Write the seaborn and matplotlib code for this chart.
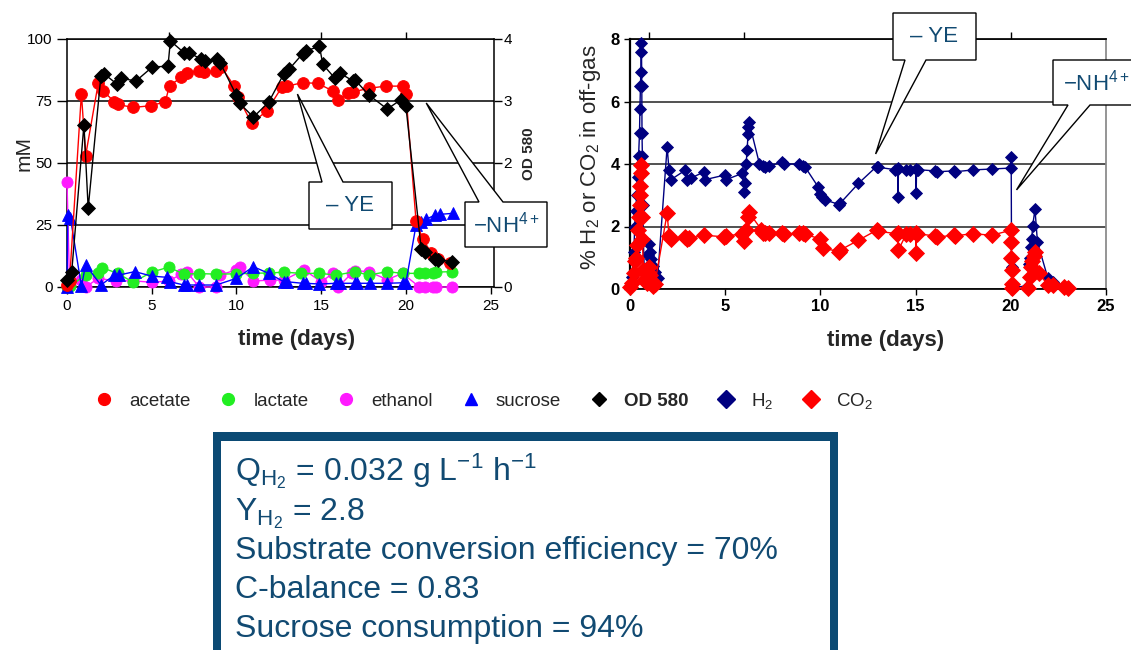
import numpy as np
import matplotlib
matplotlib.use("Agg")
import matplotlib.pyplot as plt
import seaborn as sns
from matplotlib.lines import Line2D
from matplotlib.patches import Polygon, Rectangle

# ---------------- data (left panel: mM and OD580) ----------------
acetate_day = [0.0, 0.15, 0.85, 1.1, 1.85, 2.1, 2.8, 3.0, 3.9, 4.95, 5.8, 6.05, 6.75, 7.1, 7.8, 8.1,
               8.8, 9.1, 9.85, 10.1, 10.9, 11.8, 12.7, 13.0, 13.9, 14.8, 15.7, 16.0, 16.6, 16.9, 17.8,
               18.8, 19.8, 20.0, 20.6, 21.0, 21.5, 21.9, 22.6]
acetate_mM = [1.0, 2.5, 78.0, 53.0, 82.4, 79.2, 74.7, 73.6, 72.4, 73.1, 74.7, 81.2, 84.5, 86.4, 87.2, 86.8,
              87.1, 88.8, 81.2, 76.5, 66.0, 71.1, 80.8, 81.0, 82.4, 82.1, 79.0, 75.4, 78.4, 78.7, 80.1,
              81.0, 81.0, 77.8, 26.6, 19.2, 13.8, 11.2, 9.6]

lactate_day = [0.0, 0.2, 1.1, 1.85, 2.05, 3.0, 3.9, 5.0, 6.0, 6.9, 7.8, 8.8, 10.0, 11.0, 11.9, 12.8,
               13.8, 14.9, 15.9, 17.0, 17.8, 18.9, 19.8, 20.8, 21.1, 21.6, 21.8, 22.7]
lactate_mM = [0.0, 0.5, 4.8, 5.5, 7.8, 5.5, 1.9, 6.0, 8.0, 5.2, 5.4, 5.2, 5.3, 5.6, 5.6, 6.0,
              5.5, 5.5, 4.8, 6.2, 4.8, 6.2, 5.5, 5.5, 5.5, 5.5, 6.0, 6.2]

ethanol_day = [0.0, 0.15, 0.8, 1.1, 1.85, 2.9, 3.9, 5.0, 6.0, 6.75, 7.1, 7.8, 8.8, 9.0, 10.0, 10.2,
               11.0, 12.0, 12.8, 14.0, 15.0, 15.7, 16.0, 16.8, 17.0, 17.8, 18.9, 19.8, 20.8, 21.1,
               21.6, 21.8, 22.7]
ethanol_mM = [42.5, 1.0, 2.8, 0.0, 3.5, 2.4, 2.5, 1.9, 2.4, 5.2, 5.9, 0.0, 0.0, 4.8, 6.9, 7.9,
              2.4, 2.8, 2.8, 6.9, 2.1, 5.5, 0.0, 5.5, 6.6, 6.2, 3.0, 5.5, 0.0, 0.0,
              0.0, 0.0, 0.0]

sucrose_day = [0.0, 0.05, 0.2, 0.85, 1.1, 2.0, 2.8, 3.05, 4.0, 5.0, 5.9, 6.1, 6.9, 7.1, 7.8, 8.8,
               10.0, 11.0, 11.9, 12.8, 13.0, 13.9, 14.1, 14.9, 15.9, 16.1, 17.0, 17.1, 17.9, 18.9,
               19.8, 20.0, 20.6, 20.9, 21.2, 21.7, 22.0, 22.8]
sucrose_mM = [0.0, 29.0, 28.0, 0.3, 8.9, 0.8, 4.8, 4.8, 6.2, 4.4, 3.9, 2.1, 0.8, 0.8, 0.8, 0.8,
              3.5, 8.2, 5.5, 2.1, 2.1, 1.5, 1.5, 1.2, 1.5, 1.5, 1.5, 1.5, 1.5, 1.5,
              1.7, 1.7, 25.0, 26.3, 27.3, 29.0, 29.3, 29.7]

od_day = [0.0, 0.28, 1.0, 1.25, 2.0, 2.18, 2.96, 3.2, 4.06, 5.04, 5.96, 6.1, 6.9, 7.2, 7.88, 8.16,
          8.85, 9.05, 10.0, 10.2, 11.0, 11.9, 12.8, 13.1, 13.9, 14.1, 14.9, 15.1, 15.8, 16.1,
          16.9, 17.0, 17.8, 18.9, 19.7, 20.0, 20.9, 21.1, 21.7, 21.9, 22.7]
od_580 = [0.12, 0.25, 2.62, 1.27, 3.40, 3.44, 3.27, 3.37, 3.32, 3.55, 3.56, 3.97, 3.78, 3.78, 3.68, 3.65,
          3.68, 3.61, 3.09, 2.96, 2.74, 2.98, 3.44, 3.51, 3.76, 3.81, 3.88, 3.59, 3.37, 3.45,
          3.32, 3.34, 3.10, 2.87, 3.02, 2.92, 0.62, 0.57, 0.45, 0.44, 0.41]

# ---------------- data (right panel: % in off-gas) ----------------
h2_day = [0.0, 0.1, 0.2, 0.25, 0.3, 0.35, 0.4, 0.45, 0.5, 0.52, 0.55, 0.57, 0.58, 0.6, 0.62, 0.63,
          0.65, 0.68, 0.7, 0.75, 0.85, 0.9, 0.95, 1.0, 1.05, 1.1, 1.2, 1.3, 1.45, 1.95, 2.05, 2.15,
          2.9, 3.0, 3.2, 3.9, 3.95, 5.0, 5.05, 5.9, 6.0, 6.05, 6.1, 6.15, 6.2, 6.22, 6.25, 6.8,
          7.0, 7.1, 7.3, 8.0, 8.1, 8.9, 9.1, 9.2, 9.9, 10.0, 10.1, 10.25, 11.0, 11.05, 12.0, 12.95,
          13.0, 13.9, 14.05, 14.08, 14.1, 14.5, 14.7, 15.0, 15.03, 15.05, 15.1, 16.0, 16.1, 17.0,
          17.05, 18.0, 19.0, 20.0, 20.02, 20.04, 20.05, 20.1, 20.9, 20.95, 21.0, 21.05, 21.1,
          21.15, 21.27, 21.4, 21.95, 22.2, 23.0]
h2_pct = [0.05, 0.4, 1.2, 2.0, 2.5, 3.0, 3.6, 4.25, 5.0, 5.75, 6.5, 6.95, 7.57, 7.88, 6.5, 5.0,
          4.25, 2.7, 1.6, 0.6, 0.3, 0.7, 1.1, 1.45, 1.2, 0.95, 0.75, 0.55, 0.35, 4.55, 3.8, 3.5,
          3.8, 3.5, 3.55, 3.75, 3.5, 3.65, 3.5, 3.7, 3.1, 3.4, 4.0, 4.45, 4.95, 5.2, 5.35, 4.0,
          3.95, 3.9, 3.95, 4.05, 4.0, 4.0, 3.95, 3.9, 3.25, 3.05, 2.95, 2.85, 2.7, 2.75, 3.38, 3.92,
          3.9, 3.82, 3.87, 2.95, 3.85, 3.82, 3.82, 3.85, 3.06, 3.8, 3.82, 3.78, 3.75, 3.78,
          3.75, 3.81, 3.84, 3.87, 4.23, 0.7, 0.0, 0.05, 0.1, 0.8, 1.0, 1.35, 1.6,
          2.03, 2.55, 1.5, 0.34, 0.23, 0.08]

co2_day = [0.0, 0.1, 0.2, 0.25, 0.3, 0.35, 0.4, 0.45, 0.5, 0.52, 0.55, 0.57, 0.6, 0.62, 0.65, 0.7,
           0.75, 0.85, 0.9, 0.95, 1.0, 1.05, 1.1, 1.2, 1.3, 1.95, 2.05, 2.15, 2.9, 3.0, 3.1, 3.9,
           4.95, 5.05, 5.9, 6.0, 6.1, 6.2, 6.25, 6.9, 7.0, 7.1, 7.3, 8.0, 8.1, 8.9, 9.1, 9.2, 10.0,
           10.15, 11.0, 11.05, 12.0, 12.95, 13.0, 14.0, 14.05, 14.1, 14.5, 14.7, 15.0, 15.03, 15.05,
           16.0, 16.1, 17.0, 17.05, 18.0, 19.0, 20.0, 20.02, 20.03, 20.04, 20.05, 20.06, 20.9, 21.0,
           21.05, 21.1, 21.2, 21.27, 21.5, 21.95, 22.2, 22.8, 23.0]
co2_pct = [0.05, 0.2, 0.5, 0.9, 1.0, 1.4, 1.9, 2.3, 2.7, 3.0, 3.3, 3.7, 3.97, 2.3, 1.6, 0.6,
           0.3, 0.5, 0.2, 0.55, 0.7, 0.45, 0.2, 0.1, 0.15, 2.42, 1.7, 1.6, 1.67, 1.6, 1.62, 1.72,
           1.67, 1.7, 1.76, 1.55, 1.9, 2.3, 2.45, 1.9, 1.8, 1.8, 1.8, 1.8, 1.75, 1.8, 1.8, 1.75, 1.6,
           1.3, 1.2, 1.25, 1.56, 1.88, 1.85, 1.77, 1.8, 1.25, 1.75, 1.77, 1.8, 1.15, 1.77,
           1.7, 1.66, 1.72, 1.7, 1.77, 1.72, 1.88, 1.5, 1.0, 0.6, 0.15, 0.02, 0.03, 0.4,
           0.7, 0.9, 1.05, 1.18, 0.5, 0.12, 0.12, 0.06, 0.03]

left_xticks = [0, 5, 10, 15, 20, 25]
mM_ticks = [0, 25, 50, 75, 100]
od_ticks = [0, 1, 2, 3, 4]
od_ticklabels = ["0", "", "2", "3", "4"]   # "1" is hidden behind the −NH4+ callout
gas_ticks = [0, 2, 4, 6, 8]
event_days_left = [6, 15, 20]
event_days_right = [1, 6, 20]

legend_labels = ["acetate", "lactate", "ethanol", "sucrose", "OD 580", "H$_2$", "CO$_2$"]
summary_lines = [
    r"Q$_{H_2}$ = 0.032 g L$^{\mathsf{-1}}$ h$^{\mathsf{-1}}$",
    r"Y$_{H_2}$ = 2.8",
    "Substrate conversion efficiency = 70%",
    "C-balance = 0.83",
    "Sucrose consumption = 94%",
]

# ---------------- style ----------------
sns.set_theme(style="white")
plt.rcParams["font.family"] = ["Liberation Sans", "DejaVu Sans"]
plt.rcParams["mathtext.fontset"] = "custom"
plt.rcParams["mathtext.rm"] = "Liberation Sans"
plt.rcParams["mathtext.it"] = "Liberation Sans"
plt.rcParams["mathtext.bf"] = "Liberation Sans:bold"
plt.rcParams["mathtext.sf"] = "Liberation Sans"
plt.rcParams["mathtext.default"] = "regular"

W, H = 1131, 650
fig = plt.figure(figsize=(W / 100, H / 100), dpi=100)
fig.patch.set_facecolor("white")


def frac_box(x0, y0, x1, y1):
    # pixel box (top-origin) -> [left, bottom, width, height] fractions
    return [x0 / W, 1 - y1 / H, (x1 - x0) / W, (y1 - y0) / H]


RED, GREEN, MAGENTA, BLUE, BLACK, NAVY = "#ff0000", "#22ee22", "#ff1aff", "#0000ff", "#000000", "#000080"
TXT = "#114a72"
BORDER = "#0b4a74"


def series(ax, x, y, color, marker, ms, z=3, lw=1.0):
    sns.lineplot(x=np.asarray(x), y=np.asarray(y), ax=ax, color=color, marker=marker,
                 markersize=ms, markeredgecolor=color, markeredgewidth=0.6, linewidth=lw,
                 estimator=None, sort=False, clip_on=False, legend=False, zorder=z)


# ---------------- left panel ----------------
axL = fig.add_axes(frac_box(67, 39, 494, 287))
series(axL, ethanol_day, ethanol_mM, MAGENTA, "o", 8)
series(axL, lactate_day, lactate_mM, GREEN, "o", 8)
series(axL, sucrose_day, sucrose_mM, BLUE, "^", 8)
series(axL, acetate_day, acetate_mM, RED, "o", 8.5)
axL.set_xlim(0, 25.2)
axL.set_ylim(0, 100)
axL.set_xticks(left_xticks)
axL.set_yticks(mM_ticks)
axL.yaxis.grid(True, color="black", linewidth=1.1)
axL.xaxis.grid(False)
axL.set_axisbelow(True)
for s in ["left", "bottom", "top"]:
    axL.spines[s].set_color("black")
    axL.spines[s].set_linewidth(1.1)
axL.spines["right"].set_visible(False)
axL.tick_params(axis="both", which="major", labelsize=11, colors="black", direction="out",
                length=5, width=1, left=True, bottom=True)
axL.tick_params(axis="y", length=7)
axL.set_ylabel("mM", fontsize=15)
axL.yaxis.set_label_coords(-0.078, 0.54)
axL.set_xlabel("time (days)", fontsize=16, fontweight="bold")
axL.xaxis.set_label_coords((297 - 67) / 427, -0.17)

axOD = axL.twinx()
series(axOD, od_day, od_580, BLACK, "D", 7, z=4)
axOD.set_ylim(0, 4)
axOD.set_yticks(od_ticks)
axOD.set_yticklabels(od_ticklabels)
axOD.spines["right"].set_color("black")
axOD.spines["right"].set_linewidth(1.1)
for s in ["left", "bottom", "top"]:
    axOD.spines[s].set_visible(False)
axOD.tick_params(axis="y", labelsize=11, colors="black", direction="out", length=6, width=1,
                 right=True, pad=1)
axOD.set_ylabel("OD 580", fontsize=11, fontweight="bold")
axOD.yaxis.set_label_coords(1.066, 0.536)

secL = axL.secondary_xaxis("top")
secL.set_xticks(event_days_left)
secL.tick_params(labeltop=False, length=5, width=1, direction="out", colors="black")
secL.spines["top"].set_visible(False)

# ---------------- right panel ----------------
axR = fig.add_axes(frac_box(630, 39, 1106, 289))
series(axR, h2_day, h2_pct, NAVY, "D", 6.5, z=3)
series(axR, co2_day, co2_pct, RED, "D", 8, z=4)
axR.set_xlim(0, 25)
axR.set_ylim(0, 8)
axR.set_xticks(left_xticks)
axR.set_yticks(gas_ticks)
axR.yaxis.grid(True, color="#222222", linewidth=1.1)
axR.xaxis.grid(False)
axR.set_axisbelow(True)
axR.spines["left"].set_color("black")
axR.spines["left"].set_linewidth(1.6)
axR.spines["bottom"].set_color("black")
axR.spines["top"].set_color("black")
axR.spines["right"].set_color("#888888")
axR.tick_params(axis="both", labelsize=12, colors="black", direction="out", length=4, width=1,
                left=True, bottom=True)
for lab in axR.get_xticklabels() + axR.get_yticklabels():
    lab.set_fontweight("bold")
axR.set_ylabel("% H$_2$ or CO$_2$ in off-gas", fontsize=16)
axR.yaxis.set_label_coords(-0.057, 0.528)
axR.set_xlabel("time (days)", fontsize=16, fontweight="bold")
axR.xaxis.set_label_coords((886 - 630) / 476, -0.164)

secR = axR.secondary_xaxis("top")
secR.set_xticks(event_days_right)
secR.tick_params(labeltop=False, length=5, width=1, direction="out", colors="black")
secR.spines["top"].set_visible(False)

# ---------------- legend ----------------
handle_specs = [(RED, "o", 8.5), (GREEN, "o", 8.5), (MAGENTA, "o", 8.5), (BLUE, "^", 8.5),
                (BLACK, "D", 7.5), (NAVY, "D", 9), (RED, "D", 9)]
handles = [Line2D([], [], color=c, marker=m, markersize=ms, linestyle="none", markeredgecolor=c)
           for c, m, ms in handle_specs]
leg = fig.legend(handles, legend_labels, loc="center", bbox_to_anchor=(484 / W, 1 - 401 / H),
                 ncol=7, frameon=False, fontsize=13.5, handletextpad=0.85, columnspacing=1.5,
                 handlelength=1.0)
leg.get_texts()[4].set_fontweight("bold")

# ---------------- summary box ----------------
outer = Rectangle((213 / W, 1 - 700 / H), (838 - 213) / W, (700 - 432) / H,
                  transform=fig.transFigure, facecolor=BORDER, edgecolor="none",
                  zorder=10, clip_on=False)
inner = Rectangle((221 / W, 1 - 700 / H), (830 - 221) / W, (700 - 441) / H,
                  transform=fig.transFigure, facecolor="white", edgecolor="none",
                  zorder=10.5, clip_on=False)
fig.add_artist(outer)
fig.add_artist(inner)
baselines = [480, 520, 559, 598, 637]
for txt, yb in zip(summary_lines, baselines):
    fig.text(235 / W, 1 - yb / H, txt, fontsize=23, color=TXT, va="baseline", ha="left",
             zorder=11)


# ---------------- callouts ----------------
def callout(ax, tip_xy, box_px, base_px, side, text):
    tip = fig.transFigure.inverted().transform(ax.transData.transform(tip_xy))
    x0, y0, x1, y1 = box_px
    b0, b1 = base_px
    f = lambda x, y: (x / W, 1 - y / H)
    if side == "top":
        verts = [f(x0, y0), f(b0, y0), tuple(tip), f(b1, y0), f(x1, y0), f(x1, y1), f(x0, y1)]
    else:
        verts = [f(x0, y0), f(x1, y0), f(x1, y1), f(b1, y1), tuple(tip), f(b0, y1), f(x0, y1)]
    poly = Polygon(verts, closed=True, transform=fig.transFigure, facecolor="white",
                   edgecolor="black", linewidth=1.0, zorder=12, clip_on=False)
    fig.add_artist(poly)
    fig.text((x0 + x1) / 2 / W, 1 - (y0 + y1) / 2 / H, text, fontsize=16, color=TXT,
             ha="center", va="center", zorder=13)


callout(axL, (13.6, 77.8), (309, 182, 392, 229), (322, 343), "top", "– YE")
callout(axL, (21.2, 74.2), (465, 202, 547, 247), (479, 503), "top", "−NH$^{4+}$")
callout(axR, (12.9, 4.32), (893, 13, 976, 60), (905, 926), "bottom", "– YE")
callout(axR, (20.3, 3.17), (1053, 60, 1140, 105), (1068, 1090), "bottom", "−NH$^{4+}$")

fig.savefig("out.png", dpi=100, facecolor="white")
